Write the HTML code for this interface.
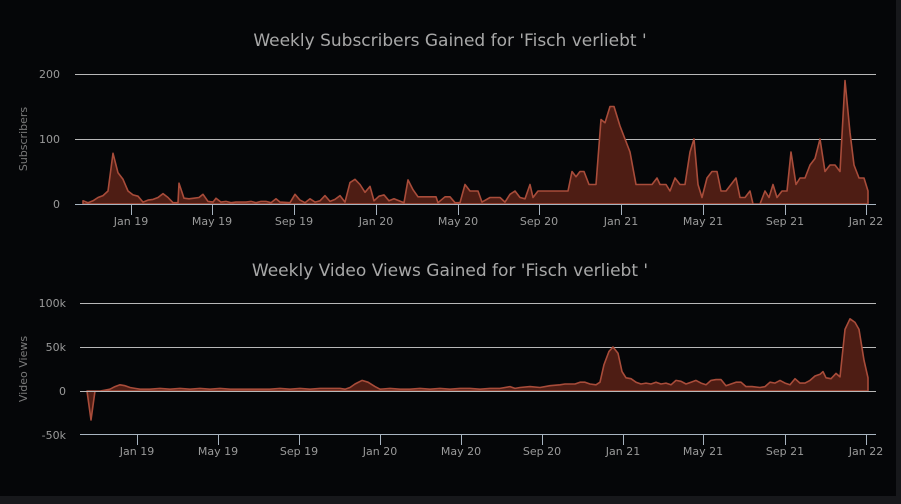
<!DOCTYPE html>
<html><head><meta charset="utf-8"><style>
html,body{margin:0;padding:0;background:#17181b;}
svg{display:block;font-family:"DejaVu Sans","Liberation Sans",sans-serif;}
</style></head><body>
<svg width="901" height="504" viewBox="0 0 901 504" xmlns="http://www.w3.org/2000/svg">
<rect x="0" y="0" width="901" height="504" fill="#17181b"/>
<rect x="0" y="0" width="896" height="496" fill="#050608"/>
<text x="450" y="46" text-anchor="middle" fill="#a8a8a8" font-size="17">Weekly Subscribers Gained for 'Fisch verliebt '</text>
<g stroke="#b8b8b8" stroke-width="1">
<line x1="75" y1="74.5" x2="876" y2="74.5"/>
<line x1="75" y1="139.5" x2="876" y2="139.5"/>
</g>
<g fill="#9a9a9a" font-size="11" text-anchor="end">
<text x="60" y="78">200</text><text x="60" y="143">100</text><text x="60" y="208">0</text>
</g>
<text transform="translate(27,139) rotate(-90)" text-anchor="middle" fill="#7a7a7a" font-size="11">Subscribers</text>
<polygon id="p1" fill="#4e1d14" stroke="#a84c3a" stroke-width="1.6" stroke-linejoin="round" points=""/>
<line x1="75" y1="204.5" x2="876" y2="204.5" stroke="#a8b4c0"/>
<g id="t1" stroke="#a8b4c0"></g>
<g id="l1" fill="#9a9a9a" font-size="11" text-anchor="middle"></g>
<text x="450" y="276" text-anchor="middle" fill="#a8a8a8" font-size="17">Weekly Video Views Gained for 'Fisch verliebt '</text>
<g stroke="#b8b8b8" stroke-width="1">
<line x1="80" y1="303.5" x2="876" y2="303.5"/>
<line x1="80" y1="347.5" x2="876" y2="347.5"/>
</g>
<g fill="#9a9a9a" font-size="11" text-anchor="end">
<text x="66" y="307">100k</text><text x="66" y="351">50k</text><text x="66" y="395">0</text><text x="66" y="439">-50k</text>
</g>
<text transform="translate(27,369) rotate(-90)" text-anchor="middle" fill="#7a7a7a" font-size="11">Video Views</text>
<polygon id="p2" fill="#4e1d14" stroke="#a84c3a" stroke-width="1.6" stroke-linejoin="round" points=""/>
<line x1="80" y1="391.5" x2="876" y2="391.5" stroke="#b8b8b8"/>
<line x1="80" y1="434.5" x2="876" y2="434.5" stroke="#a8b4c0"/>
<g id="t2" stroke="#a8b4c0"></g>
<g id="l2" fill="#9a9a9a" font-size="11" text-anchor="middle"></g>
</svg>
<script>
var NS="http://www.w3.org/2000/svg";
var d1=[83,5,88,2,93,5,98,10,103,13,108,20,113,78,118,48,123,38,128,20,133,14,138,12,143,3,148,6,153,7,158,10,163,16,168,10,173,2,178,2,179,32,184,9,189,8,194,9,199,10,203,15,208,4,213,3,216,9,221,3,226,4,231,2,236,3,241,3,246,3,251,4,256,2,261,4,266,4,271,2,276,8,280,3,290,2,295,15,300,6,305,2,310,8,315,3,320,5,325,13,330,4,335,7,340,13,345,3,350,33,355,38,360,30,365,18,370,27,374,5,379,12,384,14,389,5,394,8,399,5,404,2,408,37,413,22,418,11,428,11,436,11,438,2,445,11,450,11,455,2,460,2,465,30,470,20,478,20,482,3,490,10,500,10,505,3,510,15,515,20,520,10,525,8,530,30,533,10,538,20,545,20,568,20,572,50,576,42,580,50,584,50,589,30,596,30,601,130,605,125,610,150,614,150,620,120,625,100,630,80,636,30,652,30,657,40,660,30,666,30,670,20,675,40,680,30,685,30,690,80,694,100,698,30,702,10,707,40,712,50,717,50,721,20,726,20,731,30,736,40,740,10,745,10,750,20,753,0,760,0,765,20,769,10,773,30,777,10,782,20,787,20,791,80,796,30,800,40,805,40,810,60,815,70,820,100,825,50,830,60,835,60,840,50,845,190,850,110,854,60,859,40,864,40,868,20];
var pts=[];for(var i=0;i<d1.length;i+=2)pts.push(d1[i]+","+(204-d1[i+1]*0.65).toFixed(1));
pts.push("868,204","83,204");document.getElementById("p1").setAttribute("points",pts.join(" "));
var d2=[87,0,91,-33,95,0,100,0,105,1,110,2,115,5,120,7,125,6,130,4,135,3,140,2,150,2,160,3,170,2,180,3,190,2,200,3,210,2,220,3,230,2,240,2,250,2,260,2,270,2,280,3,290,2,300,3,310,2,320,3,330,3,340,3,345,2,350,4,355,8,362,12,368,10,375,5,380,2,390,3,400,2,410,2,420,3,430,2,440,3,450,2,460,3,470,3,480,2,490,3,500,3,510,5,515,3,520,4,530,5,540,4,550,6,560,7,565,8,575,8,580,10,585,10,590,8,596,7,600,10,604,30,609,45,613,50,618,43,622,22,626,15,631,14,636,10,641,8,646,9,651,8,656,10,661,8,666,9,671,7,676,12,681,11,686,8,691,10,696,12,701,9,706,7,711,12,716,13,721,13,726,6,731,8,736,10,741,10,746,5,752,5,760,4,765,5,770,10,775,9,780,12,785,9,790,7,795,14,800,9,805,9,810,12,815,17,820,19,823,22,826,15,831,14,836,20,840,16,845,70,850,82,855,78,859,70,864,35,868,15];
pts=[];for(i=0;i<d2.length;i+=2)pts.push(d2[i]+","+(391-d2[i+1]*0.88).toFixed(1));
pts.push("868,391","87,391");document.getElementById("p2").setAttribute("points",pts.join(" "));
var labs=["Jan 19","May 19","Sep 19","Jan 20","May 20","Sep 20","Jan 21","May 21","Sep 21","Jan 22"];
var x1=[131,212,294,376,458,539,621,703,785,866],x2=[137,218,299,380,461,542,623,703,785,866];
function ax(tid,lid,xs,y){var t=document.getElementById(tid),l=document.getElementById(lid);
xs.forEach(function(x,k){var ln=document.createElementNS(NS,"line");ln.setAttribute("x1",x+.5);ln.setAttribute("x2",x+.5);ln.setAttribute("y1",y);ln.setAttribute("y2",y+10);t.appendChild(ln);
var tx=document.createElementNS(NS,"text");tx.setAttribute("x",x);tx.setAttribute("y",y+20);tx.textContent=labs[k];l.appendChild(tx);});}
ax("t1","l1",x1,205);ax("t2","l2",x2,435);
</script>
</body></html>
